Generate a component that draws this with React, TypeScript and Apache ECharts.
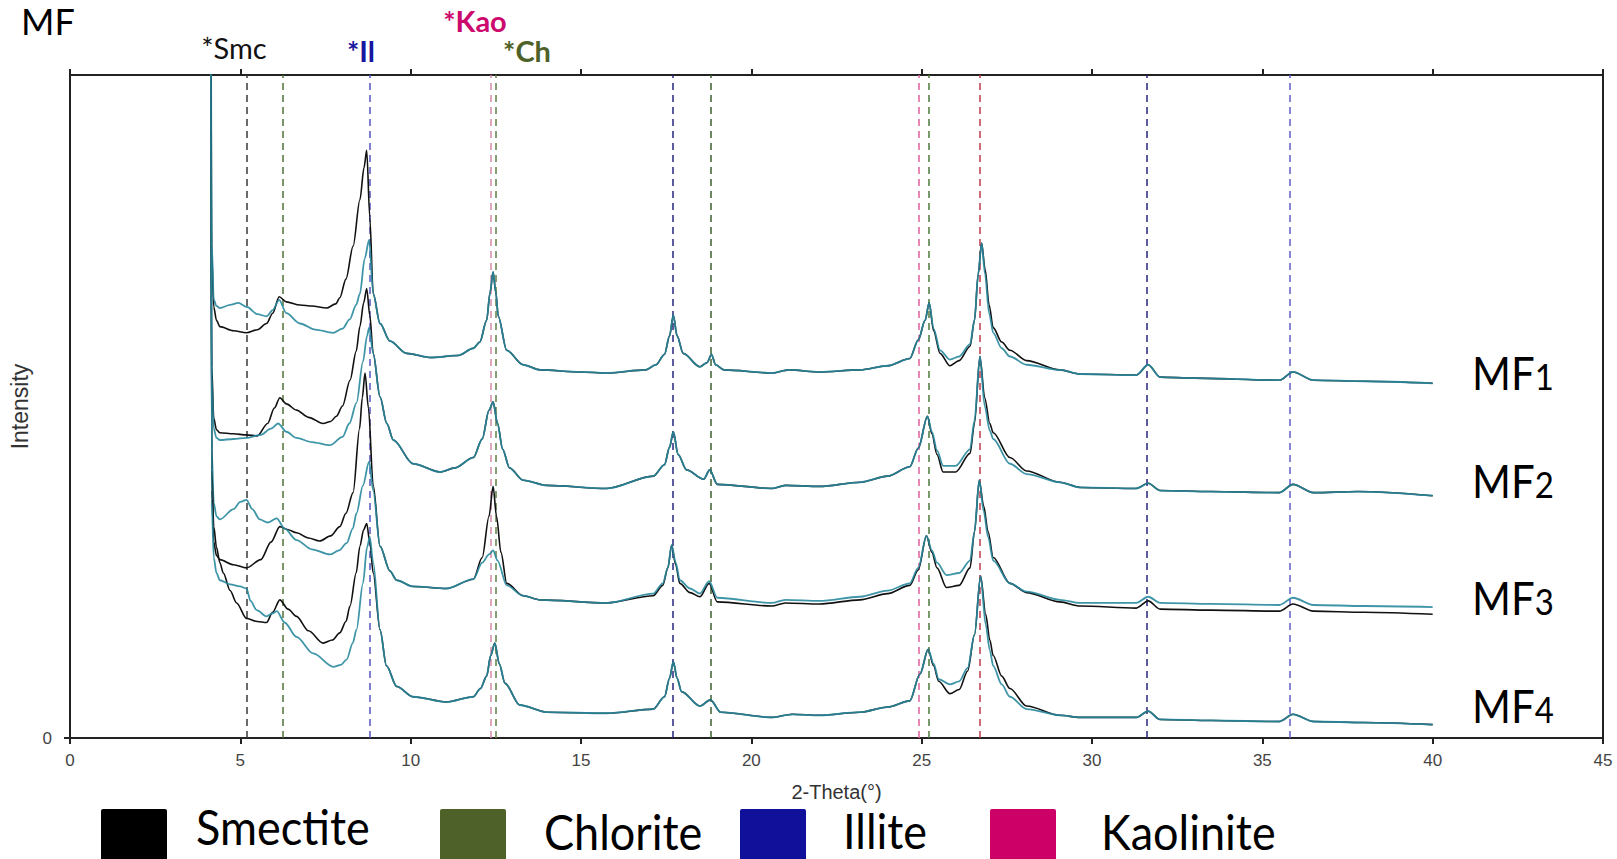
import React, { useEffect, useRef } from "react";
import * as echarts from "echarts";

// ---------- data (2-Theta in degrees, intensity in arbitrary units) ----------
const mf1Black: [number, number][] = [
  [4.1, 1500], [4.16, 470], [4.22, 418], [4.3, 405], [4.4, 399], [4.8, 395], [5.18, 393], [5.5, 396], [5.77, 402],
  [5.95, 412], [6.14, 428], [6.35, 423], [6.75, 420], [7.1, 419], [7.53, 417], [7.8, 421], [7.92, 427], [8.1, 445],
  [8.31, 477], [8.51, 522], [8.63, 553], [8.71, 570], [8.8, 505], [8.9, 431], [9.1, 402], [9.39, 385], [9.88, 373],
  [10.6, 369], [11.4, 371], [11.84, 378], [12.03, 384], [12.23, 405], [12.33, 432], [12.42, 452], [12.5, 432],
  [12.57, 409], [12.82, 376], [13.3, 362], [13.8, 357], [14.97, 355], [15.75, 354], [16.9, 357], [17.2, 362],
  [17.45, 372], [17.6, 390], [17.71, 410], [17.82, 390], [18.0, 373], [18.49, 360], [18.7, 364], [18.83, 372],
  [18.95, 362], [19.2, 357], [20.6, 354], [21.1, 357], [22.0, 355], [23.19, 357], [24.0, 361], [24.65, 368],
  [24.9, 386], [25.1, 405], [25.22, 422], [25.35, 395], [25.54, 373], [25.83, 361], [26.1, 366], [26.42, 380],
  [26.55, 405], [26.66, 450], [26.76, 480], [26.86, 455], [26.98, 420], [27.1, 398], [27.35, 384], [27.59, 376],
  [28.08, 366], [29.06, 357], [29.65, 353], [31.3, 352], [31.65, 362], [32.0, 350], [33.0, 349], [35.5, 347],
  [35.9, 355], [36.5, 347], [38.0, 346], [40.0, 344],
];
const mf1Teal: [number, number][] = [
  [4.1, 1500], [4.16, 480], [4.22, 425], [4.3, 419], [4.4, 417], [4.7, 420], [4.94, 422], [5.2, 418], [5.5, 411],
  [5.77, 409], [5.95, 415], [6.14, 425], [6.35, 412], [6.75, 402], [7.2, 396], [7.72, 393], [8.0, 397], [8.21, 406],
  [8.4, 420], [8.51, 431], [8.65, 465], [8.78, 483], [8.9, 431], [9.1, 402], [9.39, 385], [9.88, 373], [10.6, 369],
  [11.4, 371], [11.84, 378], [12.03, 384], [12.23, 405], [12.33, 432], [12.42, 452], [12.5, 432], [12.57, 409],
  [12.82, 376], [13.3, 362], [13.8, 357], [14.97, 355], [15.75, 354], [16.9, 357], [17.2, 362], [17.45, 372],
  [17.6, 390], [17.71, 410], [17.82, 390], [18.0, 373], [18.49, 360], [18.7, 364], [18.83, 372], [18.95, 362],
  [19.2, 357], [20.6, 354], [21.1, 357], [22.0, 355], [23.19, 357], [24.0, 361], [24.65, 368], [24.9, 386],
  [25.1, 405], [25.22, 422], [25.35, 397], [25.54, 376], [25.83, 367], [26.1, 370], [26.42, 382], [26.55, 405],
  [26.66, 450], [26.76, 480], [26.86, 450], [26.98, 412], [27.1, 393], [27.35, 378], [27.59, 370], [28.08, 362],
  [29.06, 357], [29.65, 353], [31.3, 352], [31.65, 362], [32.0, 350], [33.0, 349], [35.5, 347], [35.9, 355],
  [36.5, 347], [38.0, 346], [40.0, 344],
];
const mf2Black: [number, number][] = [
  [4.1, 1500], [4.16, 360], [4.22, 310], [4.3, 299], [4.4, 296], [4.8, 295], [5.18, 294], [5.5, 293], [5.8, 305],
  [6.0, 320], [6.16, 330], [6.35, 324], [6.65, 318], [7.0, 311], [7.43, 305], [7.65, 307], [7.82, 312], [8.0, 322],
  [8.22, 347], [8.4, 375], [8.51, 399], [8.62, 422], [8.71, 436], [8.8, 410], [8.9, 373], [9.1, 331], [9.3, 305],
  [9.49, 289], [10.07, 266], [10.86, 258], [11.3, 262], [11.84, 272], [12.1, 290], [12.3, 318], [12.42, 326],
  [12.55, 305], [12.7, 280], [12.9, 262], [13.3, 250], [14.0, 245], [15.75, 242], [17.12, 254], [17.45, 265],
  [17.6, 282], [17.71, 297], [17.85, 275], [18.1, 260], [18.6, 251], [18.78, 260], [19.0, 246], [20.6, 242],
  [21.0, 245], [22.0, 244], [23.19, 248], [24.0, 254], [24.65, 263], [24.9, 281], [25.17, 312], [25.3, 295],
  [25.45, 275], [25.63, 258], [26.0, 258], [26.42, 276], [26.55, 305], [26.71, 370], [26.85, 330], [27.0, 305],
  [27.1, 296], [27.59, 272], [28.08, 259], [29.06, 248], [29.65, 243], [31.3, 242], [31.65, 247], [32.0, 240],
  [33.5, 239], [35.5, 238], [35.9, 246], [36.5, 238], [37.8, 239], [40.0, 235],
];
const mf2Teal: [number, number][] = [
  [4.1, 1500], [4.16, 350], [4.22, 300], [4.3, 291], [4.4, 289], [4.8, 290], [5.18, 291], [5.6, 294], [5.9, 300],
  [6.11, 305], [6.35, 297], [6.65, 291], [7.1, 287], [7.63, 284], [8.0, 292], [8.2, 305], [8.41, 325], [8.6, 365],
  [8.72, 390], [8.78, 398], [8.9, 373], [9.1, 331], [9.3, 305], [9.49, 289], [10.07, 266], [10.86, 258], [11.3, 262],
  [11.84, 272], [12.1, 290], [12.3, 318], [12.42, 326], [12.55, 305], [12.7, 280], [12.9, 262], [13.3, 250],
  [14.0, 245], [15.75, 242], [17.12, 254], [17.45, 265], [17.6, 282], [17.71, 297], [17.85, 275], [18.1, 260],
  [18.6, 251], [18.78, 260], [19.0, 246], [20.6, 242], [21.0, 245], [22.0, 244], [23.19, 248], [24.0, 254],
  [24.65, 263], [24.9, 281], [25.17, 312], [25.3, 297], [25.45, 279], [25.63, 264], [26.0, 264], [26.42, 280],
  [26.55, 308], [26.71, 370], [26.85, 322], [27.0, 298], [27.1, 290], [27.59, 266], [28.08, 256], [29.06, 248],
  [29.65, 243], [31.3, 242], [31.65, 247], [32.0, 240], [33.5, 239], [35.5, 238], [35.9, 246], [36.5, 238],
  [37.8, 239], [40.0, 235],
];
const mf3Black: [number, number][] = [
  [4.1, 1500], [4.16, 240], [4.22, 190], [4.3, 177], [4.4, 173], [4.8, 168], [5.18, 165], [5.6, 173], [5.9, 190],
  [6.16, 205], [6.4, 202], [6.65, 199], [7.0, 194], [7.33, 191], [7.65, 196], [7.92, 205], [8.1, 218], [8.31, 238],
  [8.5, 300], [8.58, 330], [8.66, 354], [8.76, 320], [8.9, 245], [9.1, 186], [9.39, 162], [9.59, 153], [10.07, 147],
  [11.05, 145], [11.84, 154], [12.1, 175], [12.3, 215], [12.42, 244], [12.52, 215], [12.65, 180], [12.82, 150],
  [13.3, 138], [13.8, 134], [15.75, 131], [17.12, 138], [17.4, 148], [17.55, 165], [17.66, 187], [17.78, 168],
  [17.9, 150], [18.2, 141], [18.49, 137], [18.76, 150], [19.0, 132], [20.6, 128], [21.0, 131], [22.0, 130],
  [23.19, 134], [24.0, 140], [24.65, 148], [24.9, 163], [25.14, 196], [25.3, 180], [25.45, 165], [25.73, 146],
  [26.1, 148], [26.42, 165], [26.55, 200], [26.69, 250], [26.82, 225], [26.95, 200], [27.1, 175], [27.59, 150],
  [28.08, 141], [29.06, 132], [29.65, 128], [31.3, 126], [31.65, 133], [32.0, 125], [33.5, 124], [35.5, 123],
  [35.9, 130], [36.5, 123], [38.0, 122], [40.0, 120],
];
const mf3Teal: [number, number][] = [
  [4.1, 1500], [4.16, 280], [4.22, 228], [4.3, 215], [4.4, 212], [4.8, 222], [5.0, 229], [5.18, 231], [5.35, 222],
  [5.57, 212], [5.8, 209], [6.07, 213], [6.3, 203], [6.65, 192], [7.1, 183], [7.63, 178], [7.9, 182], [8.12, 189],
  [8.3, 203], [8.41, 218], [8.6, 245], [8.78, 268], [8.9, 240], [9.1, 186], [9.39, 162], [9.59, 153], [10.07, 147],
  [11.05, 145], [11.84, 154], [12.1, 170], [12.3, 178], [12.42, 182], [12.55, 172], [12.82, 148], [13.3, 138],
  [13.8, 134], [15.75, 131], [17.12, 140], [17.4, 150], [17.55, 165], [17.66, 187], [17.78, 170], [17.9, 153],
  [18.2, 145], [18.49, 140], [18.76, 152], [19.0, 136], [20.6, 131], [21.0, 134], [22.0, 133], [23.19, 137],
  [24.0, 143], [24.65, 150], [24.9, 165], [25.14, 196], [25.3, 182], [25.45, 170], [25.73, 158], [26.1, 160],
  [26.42, 172], [26.55, 200], [26.69, 250], [26.82, 220], [26.95, 195], [27.1, 172], [27.59, 150], [28.08, 142],
  [29.06, 134], [29.65, 131], [31.3, 131], [31.65, 137], [32.0, 131], [33.5, 130], [35.5, 129], [35.9, 136],
  [36.5, 129], [38.0, 128], [40.0, 127],
];
const mf4Black: [number, number][] = [
  [4.1, 1500], [4.16, 260], [4.22, 205], [4.3, 185], [4.4, 170], [4.5, 160], [4.7, 143], [4.89, 131], [5.18, 116],
  [5.5, 113], [5.77, 112], [5.95, 122], [6.16, 134], [6.4, 125], [6.65, 118], [7.0, 104], [7.43, 92], [7.7, 95],
  [7.92, 102], [8.1, 113], [8.22, 128], [8.4, 160], [8.51, 186], [8.62, 202], [8.71, 208], [8.8, 190], [8.9, 160],
  [9.1, 105], [9.29, 70], [9.59, 50], [10.07, 40], [11.05, 35], [11.84, 40], [12.05, 48], [12.23, 60], [12.35, 80],
  [12.47, 92], [12.6, 72], [12.77, 53], [13.2, 32], [14.0, 25], [15.75, 24], [17.12, 28], [17.45, 40], [17.6, 58],
  [17.71, 74], [17.82, 58], [17.95, 45], [18.49, 31], [18.8, 37], [19.1, 25], [20.6, 20], [21.2, 23], [22.0, 22],
  [23.19, 25], [24.0, 30], [24.65, 36], [24.95, 62], [25.19, 86], [25.35, 70], [25.5, 55], [25.83, 43], [26.1, 47],
  [26.35, 65], [26.55, 100], [26.73, 157], [26.88, 120], [27.0, 95], [27.1, 80], [27.35, 60], [27.59, 48],
  [28.08, 31], [29.06, 22], [29.65, 20], [31.3, 20], [31.65, 26], [32.0, 18], [33.5, 17], [35.5, 16], [35.9, 23],
  [36.5, 16], [38.0, 15], [40.0, 13],
];
const mf4Teal: [number, number][] = [
  [4.1, 1500], [4.16, 230], [4.22, 175], [4.3, 160], [4.4, 153], [4.7, 149], [4.99, 147], [5.18, 145], [5.3, 133],
  [5.48, 124], [5.77, 118], [5.95, 121], [6.07, 123], [6.3, 112], [6.65, 98], [7.14, 82], [7.73, 69], [7.95, 71],
  [8.12, 76], [8.3, 92], [8.41, 105], [8.6, 150], [8.72, 185], [8.8, 195], [8.9, 170], [9.1, 105], [9.29, 70],
  [9.59, 50], [10.07, 40], [11.05, 35], [11.84, 40], [12.05, 48], [12.23, 60], [12.35, 80], [12.47, 92], [12.6, 72],
  [12.77, 53], [13.2, 32], [14.0, 25], [15.75, 24], [17.12, 28], [17.45, 40], [17.6, 58], [17.71, 74], [17.82, 58],
  [17.95, 45], [18.49, 31], [18.8, 37], [19.1, 25], [20.6, 20], [21.2, 23], [22.0, 22], [23.19, 25], [24.0, 30],
  [24.65, 36], [24.95, 62], [25.19, 86], [25.35, 72], [25.5, 57], [25.83, 52], [26.1, 55], [26.35, 68], [26.55, 100],
  [26.73, 157], [26.88, 110], [27.0, 85], [27.1, 70], [27.35, 52], [27.59, 40], [28.08, 28], [29.06, 22],
  [29.65, 20], [31.3, 20], [31.65, 26], [32.0, 18], [33.5, 17], [35.5, 16], [35.9, 23], [36.5, 16], [38.0, 15],
  [40.0, 13],
];

// reference peak positions (dashed lines)
const refLinePositions = [5.2, 6.25, 8.8, 12.35, 12.5, 17.7, 18.8, 24.9, 25.2, 26.7, 31.6, 35.8];
const refLineColors = [
  "#3a3a3a", "#4f7038", "#5656c0", "#d58aa8", "#5f7f45", "#26267e", "#3f6030",
  "#e0609a", "#4a7a3a", "#c03a4c", "#26267e", "#6060c8",
];

const sampleNames = ["MF", "MF", "MF", "MF"];
const sampleDigits = ["1", "2", "3", "4"];
const peakTags = ["*Smc", "*Il", "*Kao", "*Ch"];
const peakTagColors = ["#111111", "#1616a0", "#cc0a6e", "#4e6128"];
const legendNames = ["Smectite", "Chlorite", "Illite", "Kaolinite"];
const legendColors = ["#000000", "#4e6128", "#10109a", "#cc0066"];

const BLACK = "#111111";
const TEAL = "#2a8a9e";

export default function App() {
  const ref = useRef<HTMLDivElement>(null);

  useEffect(() => {
    if (!ref.current) return;
    const chart = echarts.init(ref.current, null, { renderer: "svg" });

    const pairs: { data: [number, number][]; color: string; width: number; opacity: number }[] = [
      { data: mf1Black, color: BLACK, width: 1.6, opacity: 1 },
      { data: mf1Teal, color: TEAL, width: 1.8, opacity: 0.9 },
      { data: mf2Black, color: BLACK, width: 1.6, opacity: 1 },
      { data: mf2Teal, color: TEAL, width: 1.8, opacity: 0.9 },
      { data: mf3Black, color: BLACK, width: 1.6, opacity: 1 },
      { data: mf3Teal, color: TEAL, width: 1.8, opacity: 0.9 },
      { data: mf4Black, color: BLACK, width: 1.6, opacity: 1 },
      { data: mf4Teal, color: TEAL, width: 1.8, opacity: 0.9 },
    ];

    const series: any[] = pairs.map((p, i) => ({
      type: "line",
      data: p.data,
      showSymbol: false,
      symbol: "none",
      smooth: 0.3,
      smoothMonotone: "x",
      clip: true,
      silent: true,
      z: 3,
      lineStyle: { color: p.color, width: p.width, opacity: p.opacity },
      ...(i === 0
        ? {
            markLine: {
              silent: true,
              symbol: ["none", "none"],
              label: { show: false },
              z: 1,
              data: refLinePositions.map((x, k) => ({
                xAxis: x,
                lineStyle: { color: refLineColors[k], type: [7, 5], width: 1.5 },
              })),
            },
          }
        : {}),
    }));

    const axisFont = "'Liberation Sans', Arial, sans-serif";
    const lineColor = "#222222";

    const labelY = [369, 477, 594, 702];
    const graphic: any[] = [
      {
        type: "text", x: 21, y: 21,
        style: { text: "MF", fontSize: 36, fontFamily: "Lato", fill: "#000", align: "left", verticalAlign: "middle" },
      },
    ];
    const tagPos = [[234, 47], [361, 50], [475, 20], [527, 50]];
    peakTags.forEach((t, i) => {
      graphic.push({
        type: "text", x: tagPos[i][0], y: tagPos[i][1],
        style: {
          text: t, fontSize: 29, fontFamily: "Lato", fontWeight: i === 0 ? "normal" : "bold",
          fill: peakTagColors[i], align: "center", verticalAlign: "middle",
        },
      });
    });
    sampleNames.forEach((n, i) => {
      const d = sampleDigits[i];
      const style = d === "3" || d === "4" ? "c" : "b";
      graphic.push({
        type: "text", x: 1472, y: labelY[i], scaleY: 1.1,
        style: {
          text: `{a|${n}}{${style}|${d}}`, align: "left", verticalAlign: "middle",
          rich: {
            a: { fontSize: 42, lineHeight: 46, fontFamily: "Lato", fill: "#000", verticalAlign: "bottom" },
            b: { fontSize: 33, lineHeight: 38, fontFamily: "Lato", fill: "#000", verticalAlign: "bottom" },
            c: { fontSize: 33, lineHeight: 30, fontFamily: "Lato", fill: "#000", verticalAlign: "bottom" },
          },
        },
      });
    });
    const sqX = [101, 440, 740, 990];
    const txtX = [196, 544, 843, 1101];
    const txtY = [826, 831, 830, 831];
    legendNames.forEach((n, i) => {
      graphic.push({
        type: "rect", shape: { x: sqX[i], y: 809, width: 66, height: 60, r: 2 },
        style: { fill: legendColors[i] },
      });
      graphic.push({
        type: "text", x: txtX[i], y: txtY[i], scaleY: 1.08,
        style: { text: n, fontSize: 45, fontFamily: "Lato", fill: "#000", align: "left", verticalAlign: "middle" },
      });
    });

    const option: any = {
      animation: false,
      backgroundColor: "#ffffff",
      grid: { left: 70, right: 14, top: 75, bottom: 121, outerBoundsMode: "none" },
      xAxis: [
        {
          type: "value", min: 0, max: 45, interval: 5, position: "bottom",
          axisLine: { show: true, onZero: false, lineStyle: { color: lineColor, width: 2 } },
          axisTick: { show: true, length: 6, lineStyle: { color: lineColor, width: 2 } },
          axisLabel: { color: "#444", fontSize: 17, fontFamily: axisFont, margin: 14 },
          splitLine: { show: false },
          name: "2-Theta(°)", nameLocation: "middle", nameGap: 44,
          nameTextStyle: { color: "#333", fontSize: 20, fontFamily: axisFont },
        },
        {
          type: "value", min: 0, max: 45, interval: 5, position: "top",
          axisLine: { show: true, onZero: false, lineStyle: { color: lineColor, width: 2 } },
          axisTick: { show: true, length: 6, lineStyle: { color: lineColor, width: 2 } },
          axisLabel: { show: false },
          splitLine: { show: false },
        },
      ],
      yAxis: [
        {
          type: "value", min: 0, max: 643, position: "left",
          axisLine: { show: true, onZero: false, lineStyle: { color: lineColor, width: 2 } },
          axisTick: { show: true, length: 6, customValues: [0], lineStyle: { color: lineColor, width: 2 } },
          axisLabel: { show: true, customValues: [0], color: "#444", fontSize: 17, fontFamily: axisFont, margin: 18 },
          splitLine: { show: false },
          name: "Intensity", nameLocation: "middle", nameGap: 38, nameRotate: 90,
          nameTextStyle: { color: "#333", fontSize: 23, fontFamily: axisFont },
        },
        {
          type: "value", min: 0, max: 643, position: "right",
          axisLine: { show: true, onZero: false, lineStyle: { color: lineColor, width: 2 } },
          axisTick: { show: false },
          axisLabel: { show: false },
          splitLine: { show: false },
        },
      ],
      series,
      graphic,
    };

    chart.setOption(option);
    return () => chart.dispose();
  }, []);

  return (
    <div
      ref={ref}
      style={{ position: "absolute", left: 0, top: 0, width: 1617, height: 859, background: "#fff" }}
    />
  );
}
